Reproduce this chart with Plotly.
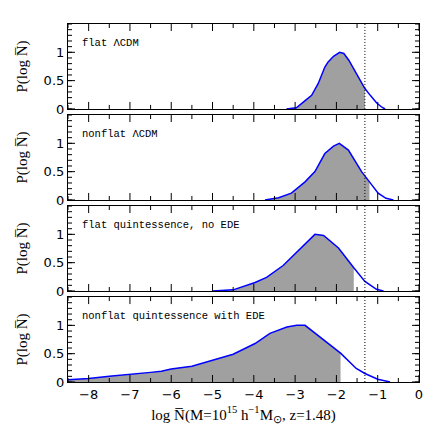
import plotly.graph_objects as go
from plotly.subplots import make_subplots
import numpy as np

# 패널 이름
labels = ['flat ΛCDM', 'nonflat ΛCDM', 'flat quintessence, no EDE',
          'nonflat quintessence with EDE']

# 각 모델의 분포 곡선
x_flat_lcdm = [-3.21, -2.97, -2.75, -2.6, -2.44, -2.28, -2.2, -2.07, -1.92,
               -1.82, -1.7, -1.52, -1.39, -1.31, -1.18, -1.03, -0.9, -0.82]
y_flat_lcdm = [0.0, 0.02, 0.15, 0.24, 0.45, 0.74, 0.83, 0.93, 1.0,
               0.98, 0.86, 0.63, 0.48, 0.36, 0.24, 0.11, 0.03, 0.0]

x_nonflat_lcdm = [-3.73, -3.4, -3.09, -2.76, -2.52, -2.28, -2.07, -1.93,
                  -1.71, -1.55, -1.39, -1.2, -0.99, -0.8, -0.62]
y_nonflat_lcdm = [0.0, 0.04, 0.12, 0.32, 0.5, 0.82, 0.95, 1.0,
                  0.88, 0.7, 0.5, 0.32, 0.12, 0.03, 0.0]

x_flat_quint = [-4.99, -4.5, -3.97, -3.69, -3.29, -2.92, -2.52, -2.31,
                -1.95, -1.58, -1.31, -1.03, -0.86]
y_flat_quint = [0.0, 0.02, 0.15, 0.24, 0.45, 0.72, 1.0, 0.98,
                0.76, 0.41, 0.17, 0.03, 0.0]

x_nonflat_quint = [-8.5, -8.0, -7.5, -7.0, -6.5, -6.24, -6.0, -5.5, -5.0,
                   -4.5, -3.97, -3.61, -3.2, -2.96, -2.76, -2.4, -1.9,
                   -1.52, -1.31, -1.0, -0.7]
y_nonflat_quint = [0.04, 0.06, 0.1, 0.13, 0.17, 0.19, 0.23, 0.28, 0.38,
                   0.49, 0.68, 0.86, 0.97, 1.0, 1.0, 0.8, 0.51,
                   0.24, 0.15, 0.05, 0.0]

# 음영 구간 끝 값, 관측값 (점선)
fill_cut = [-1.31, -1.2, -1.58, -1.9]
obs_value = -1.31

# 축 눈금
x_major = list(range(-8, 1))
x_minor = [-8.5 + k for k in range(9)]
y_major = [0, 0.5, 1]
y_major_text = ['0', '0.5', '1']
y_minor = [round(k * 0.1, 1) for k in range(16)]

X_RANGE = [-8.5, 0]
Y_RANGE = [0, 1.5]

series = [(x_flat_lcdm, y_flat_lcdm), (x_nonflat_lcdm, y_nonflat_lcdm),
          (x_flat_quint, y_flat_quint), (x_nonflat_quint, y_nonflat_quint)]

fig = make_subplots(rows=4, cols=1, shared_xaxes=True, vertical_spacing=0.017)


def add_ticks(row):
    # 안쪽 눈금을 픽셀 길이 shape 로 그림 (위/아래, 왼쪽/오른쪽)
    sfx = '' if row == 1 else str(row)
    tick_line = dict(color='black', width=1)
    for vals, ln in [(x_major, 7), (x_minor, 4)]:
        for v in vals:
            for side, sign in [(0, 1), (1, -1)]:
                fig.add_shape(type='line', xref=f'x{sfx}', yref=f'y{sfx} domain',
                              x0=v, x1=v, ysizemode='pixel', yanchor=side,
                              y0=0, y1=sign * ln, line=tick_line, layer='above')
    for vals, ln in [(y_major, 7), (y_minor, 4)]:
        for v in vals:
            for side, sign in [(0, 1), (1, -1)]:
                fig.add_shape(type='line', xref=f'x{sfx} domain', yref=f'y{sfx}',
                              y0=v, y1=v, xsizemode='pixel', xanchor=side,
                              x0=0, x1=sign * ln, line=tick_line, layer='above')


for i, (xs, ys) in enumerate(series):
    row = i + 1
    xs = np.array(xs)
    ys = np.array(ys)
    m = xs <= fill_cut[i] + 1e-9
    fig.add_trace(go.Scatter(
        x=xs[m], y=ys[m], mode='lines', fill='tozeroy',
        fillcolor='#a0a0a0', line=dict(width=0), hoverinfo='skip'
    ), row=row, col=1)
    fig.add_trace(go.Scatter(
        x=xs, y=ys, mode='lines', line=dict(color='#0000ff', width=1.5)
    ), row=row, col=1)
    fig.add_vline(x=obs_value, line_dash='1px,2px', line_color='black',
                  line_width=1, row=row, col=1)
    add_ticks(row)
    fig.add_annotation(
        x=-8.22, y=1.16, xref=f'x{row if row > 1 else ""}',
        yref=f'y{row if row > 1 else ""}', text=labels[i], showarrow=False,
        xanchor='left', yanchor='middle',
        font=dict(family='Liberation Mono', size=10.5, color='black')
    )

fig.update_yaxes(
    range=Y_RANGE, tickvals=y_major, ticktext=y_major_text, ticks='',
    mirror=True, showline=True, automargin=False,
    linecolor='black', linewidth=1.2, showgrid=False, zeroline=False,
    tickfont=dict(family='DejaVu Sans', size=13, color='black'),
    title=dict(text='P(log N\u0305)', standoff=12,
               font=dict(family='Liberation Serif', size=15, color='black')),
)
fig.update_xaxes(
    range=X_RANGE, tickvals=x_major, ticks='', automargin=False,
    mirror=True, showline=True, linecolor='black', linewidth=1.2,
    showgrid=False, zeroline=False,
    tickfont=dict(family='DejaVu Sans', size=13, color='black'),
)

fig.update_xaxes(
    title=dict(text='log N\u0305(M=10<sup>15</sup> h<sup>\u22121</sup>M<sub>\u2299</sub>, z=1.48)',
               standoff=8,
               font=dict(family='Liberation Serif', size=15, color='black')),
    row=4, col=1
)

fig.update_layout(
    width=443, height=443, showlegend=False,
    margin=dict(l=68, r=24, t=24, b=61),
    plot_bgcolor='white', paper_bgcolor='white'
)

fig.write_html('out.html', config={'displayModeBar': False},
               post_script="document.body.style.margin='0';")
